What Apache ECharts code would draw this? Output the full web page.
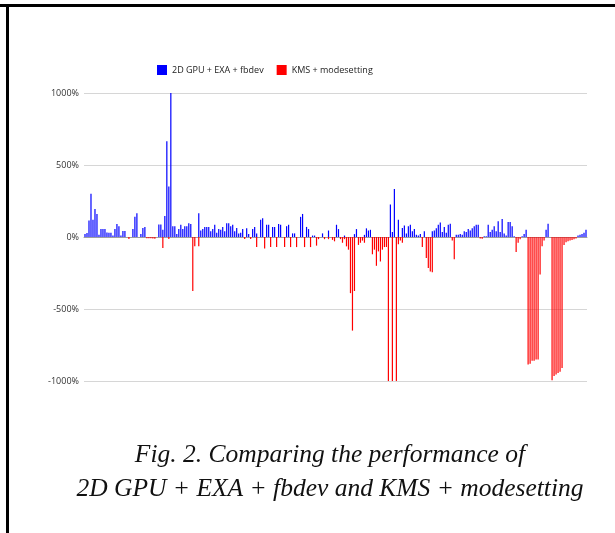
<!DOCTYPE html>
<html>
<head>
<meta charset="utf-8">
<script src="https://cdn.jsdelivr.net/npm/echarts@6/dist/echarts.min.js"></script>
<style>
  html, body { margin: 0; padding: 0; background: #fff; }
  #perf-chart { width: 615px; height: 533px; }
</style>
</head>
<body>
<div id="perf-chart"></div>
<script>
// relative performance per test, in percent
var blueValues = [
    20, 28, 115, 300, 120, 195, 160, 15, 55, 55, 55, 32, 30, 30, 10, 55, 90, 75, 10, 42, 42,
    0, 0, 0, 55, 140, 165, 0, 20, 62, 70, 0, 0, 0, 0, 0, 0, 86, 86, 50, 145, 665,
    350, 1000, 75, 75, 20, 55, 85, 55, 75, 75, 95, 90, 0, 0, 0, 165, 45, 55, 70, 70, 70,
    40, 55, 85, 30, 55, 50, 70, 40, 95, 95, 75, 85, 40, 62, 25, 30, 55, 0, 60, 20, 0,
    55, 70, 25, 0, 120, 130, 0, 85, 85, 0, 70, 70, 0, 90, 85, 0, 0, 75, 85, 0, 25,
    25, 0, 0, 140, 160, 0, 70, 55, 0, 10, 10, 0, 0, 0, 25, 0, 0, 45, 0, 0, 0,
    85, 55, 0, 0, 10, 0, 0, 0, 0, 20, 55, 0, 0, 0, 15, 60, 45, 50, 0, 0, 0,
    0, 0, 0, 0, 0, 0, 225, 35, 333, 0, 120, 0, 62, 80, 25, 75, 85, 40, 55, 15, 10,
    20, 0, 40, 0, 0, 0, 40, 45, 60, 85, 100, 35, 70, 30, 85, 92, 0, 0, 15, 15, 20,
    15, 40, 35, 55, 45, 60, 75, 85, 85, 0, 0, 5, 5, 85, 35, 50, 75, 40, 110, 35, 125,
    25, 10, 105, 105, 75, 5, 0, 0, 0, 5, 20, 50, 0, 0, 0, 0, 0, 0, 0, 0, 0,
    50, 92, 0, 0, 0, 0, 0, 0, 0, 0, 0, 0, 0, 0, 0, 0, 10, 15, 20, 30, 50
];
var redValues = [
    0, 0, 0, 0, 0, 0, 0, 0, 0, 0, 0, 0, 0, 0, 0, 0, 0, 0, 0, 0, 0,
    0, -14, 0, 0, 0, 0, 0, 0, 0, 0, -8, -8, -8, -10, -12, 0, 0, 0, -76, 0, 0,
    -14, 0, 0, 0, 0, 0, 0, 0, 0, 0, 0, 0, -375, -65, 0, -65, 0, 0, 0, 0, 0,
    0, 0, 0, 0, 0, 0, 0, 0, 0, 0, 0, 0, 0, 0, 0, 0, 0, -14, 0, 0, -14,
    0, 0, -70, 0, 0, 0, -80, 0, 0, -70, 0, 0, -70, 0, 0, 0, -70, 0, 0, -70, 0,
    0, -70, 0, 0, 0, -70, 0, 0, -70, 0, 0, -60, -15, 0, 0, -15, 0, -15, 0, -20, -30,
    0, 0, -15, -40, -15, -65, -88, -390, -650, -375, 0, -55, -40, -25, -40, 0, 0, 0, -120, -88, -200,
    -100, -170, -88, -70, -70, -1000, 0, -1000, 0, -1000, -50, -25, -40, 0, 0, 0, 0, 0, 0, 0, 0,
    0, -70, 0, -145, -215, -240, -245, 0, 0, 0, 0, 0, 0, 0, 0, 0, -25, -155, 0, 0, 0,
    0, 0, 0, 0, 0, 0, 0, 0, 0, -10, -12, 0, 0, 0, 0, 0, 0, 0, 0, 0, 0,
    0, 0, 0, 0, 0, 0, -105, -40, -15, 0, 0, 0, -885, -880, -860, -860, -850, -850, -260, -65, -25,
    0, 0, 0, -995, -965, -955, -945, -935, -910, -55, -37, -30, -25, -20, -15, -10, 0, 0, 0, 0, 0
];
var categories = blueValues.map(function (v, i) { return 'Test ' + (i + 1); });
var yTicks = [-1000, -500, 0, 500, 1000];
var seriesNames = ['2D GPU + EXA + fbdev', 'KMS + modesetting'];
var captionLines = ['Fig. 2. Comparing the performance of', '2D GPU + EXA + fbdev and KMS + modesetting'];

var perfChart = echarts.init(document.getElementById('perf-chart'), null, {renderer: 'canvas'});

var option = {
    animation: false,
    backgroundColor: '#fff',
    legend: {
        left: 152,
        top: 60,
        icon: 'rect',
        itemWidth: 10,
        itemHeight: 10,
        itemGap: 13,
        textStyle: { fontFamily: 'Open Sans', fontSize: 9, color: '#222' },
        data: seriesNames
    },
    grid: {
        left: 84,
        right: 28,
        top: 93,
        bottom: 152,
        containLabel: false
    },
    xAxis: {
        type: 'category',
        data: categories,
        axisLine: { onZero: true, lineStyle: { color: '#9e9e9e', width: 1 } },
        axisTick: { show: false },
        axisLabel: { show: false },
        splitLine: { show: false }
    },
    yAxis: {
        type: 'value',
        min: yTicks[0],
        max: yTicks[yTicks.length - 1],
        interval: 500,
        axisLine: { show: false },
        axisTick: { show: false },
        axisLabel: {
            formatter: function (v) { return v + '%'; },
            fontFamily: 'Open Sans',
            fontSize: 9,
            color: '#333',
            margin: 5
        },
        splitLine: { lineStyle: { color: '#d6d6d6', width: 1 } }
    },
    series: [
        {
            name: seriesNames[0],
            type: 'bar',
            data: blueValues,
            itemStyle: { color: '#0000ff' },
            barCategoryGap: '40%',
            barGap: '-100%'
        },
        {
            name: seriesNames[1],
            type: 'bar',
            data: redValues,
            itemStyle: { color: '#ff0000' },
            barCategoryGap: '40%',
            barGap: '-100%'
        }
    ],
    graphic: [
        { type: 'rect', shape: { x: 0, y: 4, width: 615, height: 3 }, style: { fill: '#000' } },
        { type: 'rect', shape: { x: 6, y: 4, width: 3, height: 529 }, style: { fill: '#000' } },
        {
            type: 'text', x: 330, y: 455,
            style: { text: captionLines[0], font: 'italic 25.5px "Liberation Serif"', fill: '#111', textAlign: 'center', textVerticalAlign: 'middle' }
        },
        {
            type: 'text', x: 330, y: 489,
            style: { text: captionLines[1], font: 'italic 25.5px "Liberation Serif"', fill: '#111', textAlign: 'center', textVerticalAlign: 'middle' }
        }
    ]
};

option && perfChart.setOption(option);
</script>
</body>
</html>
